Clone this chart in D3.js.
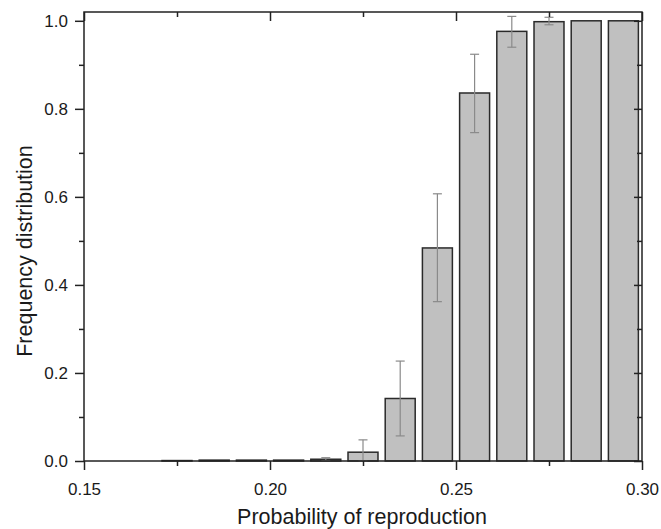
<!DOCTYPE html>
<html>
<head>
<meta charset="utf-8">
<script src="https://cdn.jsdelivr.net/npm/d3@7"></script>
<style>
  html, body { margin: 0; padding: 0; background: #fff; }
  svg { display: block; font-family: "Liberation Sans", Arial, sans-serif; }
</style>
</head>
<body>
<svg id="chart" width="661" height="529"></svg>
<script>
// Data
const binCenters = [0.155, 0.165, 0.175, 0.185, 0.195, 0.205, 0.215, 0.225, 0.235, 0.245, 0.255, 0.265, 0.275, 0.285, 0.295];
const frequency  = [0.000, 0.000, 0.001, 0.002, 0.002, 0.002, 0.004, 0.020, 0.142, 0.484, 0.836, 0.976, 0.998, 1.000, 1.000];
const errLow     = [0.000, 0.000, 0.000, 0.000, 0.000, 0.000, 0.001, 0.000, 0.057, 0.362, 0.746, 0.940, 0.991, 1.000, 1.000];
const errHigh    = [0.000, 0.000, 0.001, 0.002, 0.002, 0.002, 0.0075, 0.048, 0.227, 0.607, 0.924, 1.010, 1.008, 1.000, 1.000];
const xMajorTicks = [0.15, 0.20, 0.25, 0.30];
const xMinorTicks = [0.175, 0.225, 0.275];
const yMajorTicks = [0.0, 0.2, 0.4, 0.6, 0.8, 1.0];
const yMinorTicks = [0.1, 0.3, 0.5, 0.7, 0.9];
const xTitle = "Probability of reproduction";
const yTitle = "Frequency distribution";

const svg = d3.select("#chart");
const L = 84, R = 642, T = 12, B = 461;

const x = d3.scaleLinear().domain([0.15, 0.30]).range([L, R]);
const y = d3.scaleLinear().domain([0, 1.02]).range([B, T]);

const binW = x(0.16) - x(0.15);
const barW = binW * 0.806;

// Bars
svg.append("g").selectAll("rect")
  .data(binCenters)
  .join("rect")
  .attr("x", (d) => x(d) - barW / 2)
  .attr("y", (d, i) => y(frequency[i]))
  .attr("width", barW)
  .attr("height", (d, i) => Math.max(0, y(0) - y(frequency[i])))
  .attr("fill", "#c0c0c0")
  .attr("stroke", "#2a2a2a")
  .attr("stroke-width", 1.5);

// Error bars
const eg = svg.append("g").attr("stroke", "#8a8a8a").attr("stroke-width", 1.2);
binCenters.forEach((c, i) => {
  if (errHigh[i] - errLow[i] < 0.003) return;
  const cx = x(c);
  eg.append("line").attr("x1", cx).attr("x2", cx).attr("y1", y(errLow[i])).attr("y2", y(errHigh[i]));
  eg.append("line").attr("x1", cx - 4.5).attr("x2", cx + 4.5).attr("y1", y(errHigh[i])).attr("y2", y(errHigh[i]));
  eg.append("line").attr("x1", cx - 4.5).attr("x2", cx + 4.5).attr("y1", y(errLow[i])).attr("y2", y(errLow[i]));
});

// Axes
const axColor = "#222";
const fmt = d3.format(".2f");
const fmtY = d3.format(".1f");

const xAxis = svg.append("g").attr("transform", `translate(0,${B})`)
  .call(d3.axisBottom(x).tickValues(xMajorTicks).tickSize(9).tickPadding(13).tickFormat(fmt));
const xAxisMinor = svg.append("g").attr("transform", `translate(0,${B})`)
  .call(d3.axisBottom(x).tickValues(xMinorTicks).tickSize(5).tickFormat(""));
const xTop = svg.append("g").attr("transform", `translate(0,${T})`)
  .call(d3.axisBottom(x).tickValues(xMajorTicks).tickSize(9).tickFormat(""));
const xTopMinor = svg.append("g").attr("transform", `translate(0,${T})`)
  .call(d3.axisBottom(x).tickValues(xMinorTicks).tickSize(5).tickFormat(""));

const yAxis = svg.append("g").attr("transform", `translate(${L},0)`)
  .call(d3.axisLeft(y).tickValues(yMajorTicks).tickSize(9).tickPadding(7).tickFormat(fmtY));
const yAxisMinor = svg.append("g").attr("transform", `translate(${L},0)`)
  .call(d3.axisLeft(y).tickValues(yMinorTicks).tickSize(5).tickFormat(""));
const yRight = svg.append("g").attr("transform", `translate(${R},0)`)
  .call(d3.axisLeft(y).tickValues(yMajorTicks).tickSize(8).tickFormat(""));
const yRightMinor = svg.append("g").attr("transform", `translate(${R},0)`)
  .call(d3.axisLeft(y).tickValues(yMinorTicks).tickSize(5).tickFormat(""));

[xAxis, xAxisMinor, xTop, xTopMinor, yAxis, yAxisMinor, yRight, yRightMinor].forEach((g) => {
  g.attr("font-family", "'Liberation Sans', Arial, sans-serif").attr("font-size", 17);
  g.select(".domain").remove();
  g.selectAll(".tick line").attr("stroke", axColor).attr("stroke-width", 1.5);
  g.selectAll(".tick text").attr("fill", "#1a1a1a");
});

// Frame
svg.append("rect")
  .attr("x", L).attr("y", T).attr("width", R - L).attr("height", B - T)
  .attr("fill", "none").attr("stroke", axColor).attr("stroke-width", 1.5);

// Titles
svg.append("text")
  .attr("x", (L + R) / 2 - 1).attr("y", 524)
  .attr("text-anchor", "middle")
  .style("font-size", "21.5px").attr("fill", "#1a1a1a")
  .text(xTitle);

svg.append("text")
  .attr("transform", `translate(32,${251}) rotate(-90)`)
  .attr("text-anchor", "middle")
  .style("font-size", "21.5px").attr("fill", "#1a1a1a")
  .text(yTitle);
</script>
</body>
</html>
